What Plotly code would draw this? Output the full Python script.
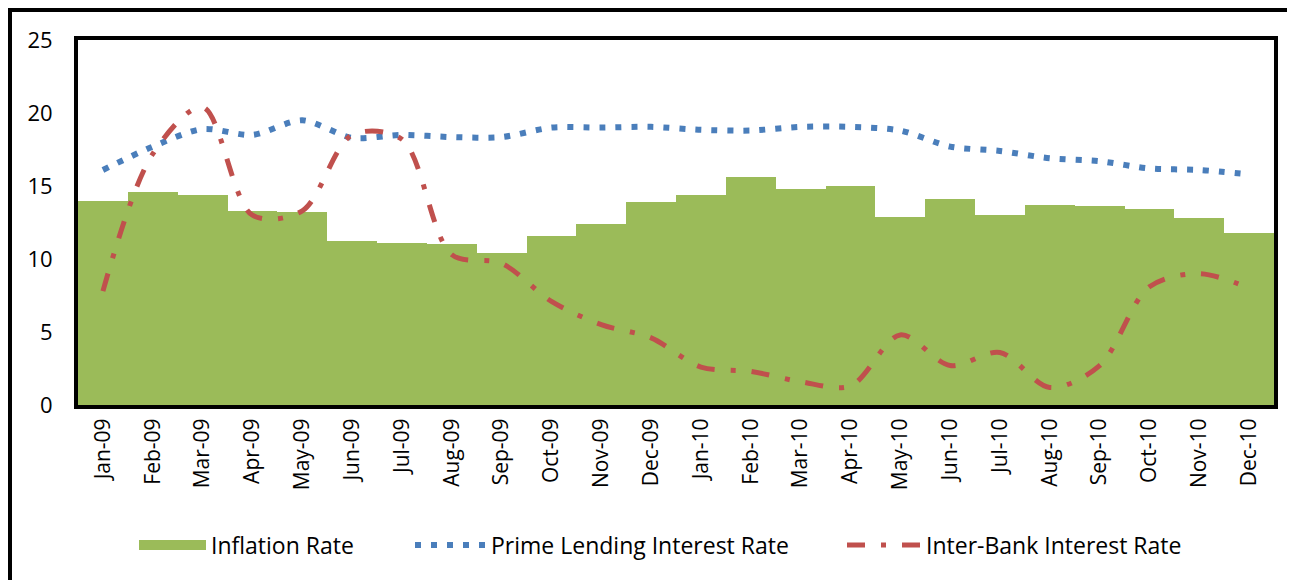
import plotly.graph_objects as go

months = ["Jan-09", "Feb-09", "Mar-09", "Apr-09", "May-09", "Jun-09", "Jul-09", "Aug-09",
          "Sep-09", "Oct-09", "Nov-09", "Dec-09", "Jan-10", "Feb-10", "Mar-10", "Apr-10",
          "May-10", "Jun-10", "Jul-10", "Aug-10", "Sep-10", "Oct-10", "Nov-10", "Dec-10"]

inflation = [14.0, 14.6, 14.4, 13.3, 13.2, 11.2, 11.1, 11.0, 10.4, 11.6, 12.4, 13.9,
             14.4, 15.6, 14.8, 15.0, 12.9, 14.1, 13.0, 13.7, 13.6, 13.4, 12.8, 11.8]

prime_lending = [16.1, 17.7, 18.9, 18.5, 19.5, 18.3, 18.5, 18.35, 18.35, 19.0, 19.0, 19.05,
                 18.85, 18.8, 19.05, 19.05, 18.8, 17.7, 17.4, 16.9, 16.7, 16.2, 16.1, 15.8]

inter_bank = [7.8, 17.2, 20.4, 13.0, 13.3, 18.5, 18.2, 10.3, 9.7, 7.1, 5.5, 4.6,
              2.6, 2.3, 1.6, 1.3, 4.8, 2.7, 3.6, 1.2, 2.7, 8.1, 9.0, 8.0]

y_ticks = [0, 5, 10, 15, 20, 25]

FONT = "Open Sans"
GREEN = "#9BBB59"
BLUE = "#4A7EBB"
RED = "#C0504D"

# page body has an 8px default margin; the figure is sized to fill the rest of the window
OFF = 8
W, H = 1295 - OFF, 580 - OFF
L, R, T, B = 78 - OFF, 21, 40 - OFF, 175
PW, PH = W - L - R, H - T - B


def px_x(p):
    return (p - OFF - L) / PW


def px_y(p):
    return (H - B - (p - OFF)) / PH


fig = go.Figure()
fig.add_trace(go.Bar(
    x=months, y=inflation, name="Inflation Rate", showlegend=False,
    marker=dict(color=GREEN, line=dict(width=0)),
))
# legend key for the bars, drawn as a wide swatch like the original
fig.add_trace(go.Scatter(
    x=[None], y=[None], name="Inflation Rate", mode="lines", legend="legend",
    line=dict(color=GREEN, width=16), hoverinfo="skip",
))
fig.add_trace(go.Scatter(
    x=months, y=prime_lending, name="Prime Lending Interest Rate", mode="lines", legend="legend2",
    line=dict(color=BLUE, width=6, dash="6px,10px", shape="spline", smoothing=0.8),
))
fig.add_trace(go.Scatter(
    x=months, y=inter_bank, name="Inter-Bank Interest Rate", mode="lines", legend="legend3",
    line=dict(color=RED, width=5, dash="18px,16px,5px,16px", shape="spline", smoothing=0.9),
))

LEG_OFFSET = 4


def leg(start, iw):
    return dict(orientation="h", x=px_x(start - LEG_OFFSET), y=px_y(545),
                xanchor="left", yanchor="middle", bgcolor="rgba(0,0,0,0)",
                font=dict(size=23, family=FONT), itemwidth=iw)


fig.update_layout(
    width=W, height=H,
    margin=dict(l=L, r=R, t=T, b=B),
    paper_bgcolor="white", plot_bgcolor="white",
    bargap=0,
    font=dict(family=FONT, color="black"),
    showlegend=True,
    legend=leg(138, 67),
    legend2=leg(414, 71),
    legend3=leg(846, 74),
    shapes=[dict(type="rect", xref="paper", yref="paper",
                 x0=px_x(10), x1=px_x(1305), y0=px_y(10), y1=px_y(600),
                 line=dict(color="black", width=4), fillcolor="rgba(0,0,0,0)", layer="above")],
)
fig.update_xaxes(
    type="category", range=[-0.5, 23.5], tickangle=-90,
    tickfont=dict(size=21, family=FONT), ticklabelstandoff=1,
    showline=True, linecolor="black", linewidth=4, mirror=True,
    showgrid=False, ticks="",
)
fig.update_yaxes(
    range=[0, 25], tickvals=y_ticks, tickfont=dict(size=22, family=FONT),
    ticklabelstandoff=17,
    showline=True, linecolor="black", linewidth=4, mirror=True,
    showgrid=False, zeroline=False, ticks="",
)

fig.write_html("out.html")
